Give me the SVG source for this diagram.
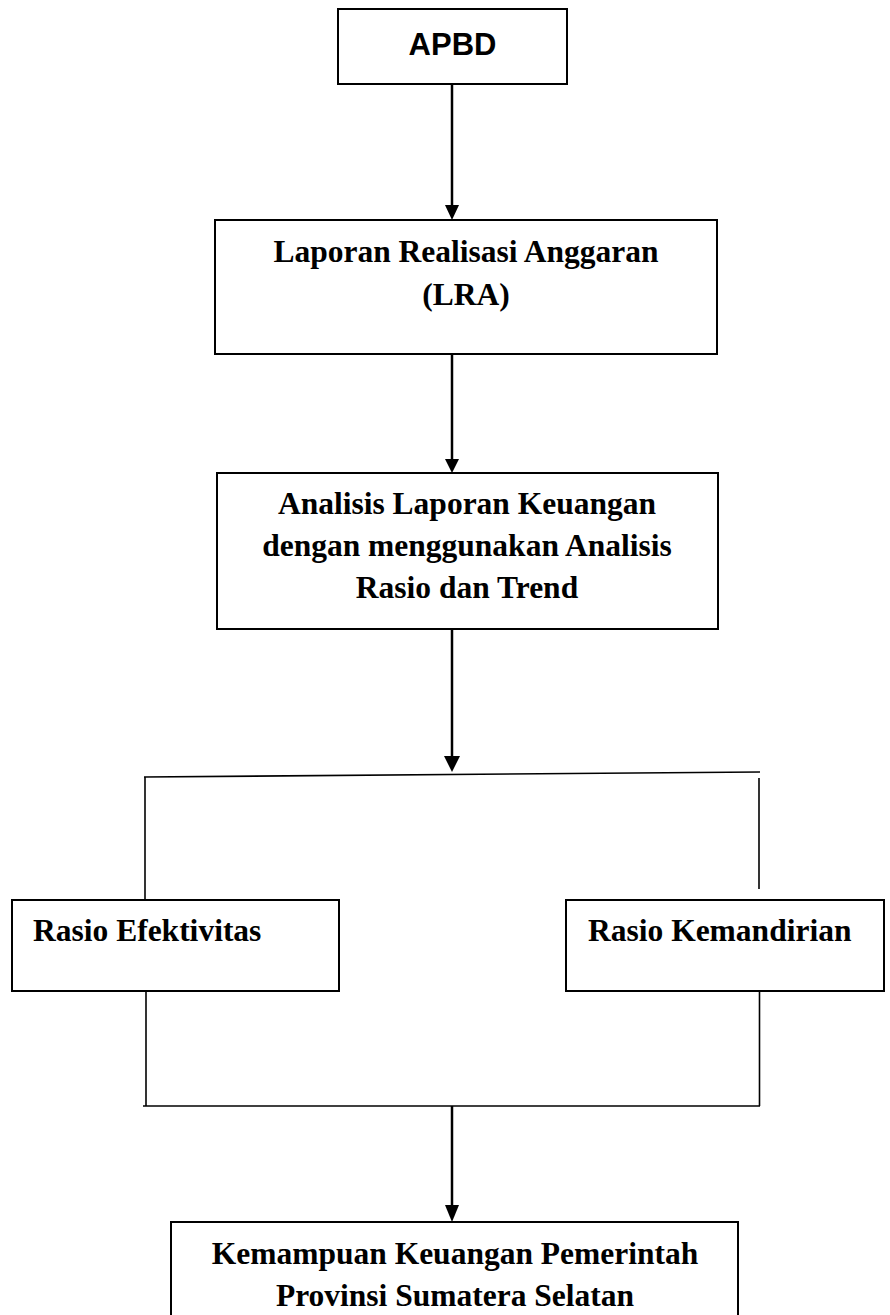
<svg xmlns="http://www.w3.org/2000/svg" width="890" height="1315" viewBox="0 0 890 1315">
<style>
.box{fill:#fff;stroke:#000;stroke-width:2}
.t{font-family:"Liberation Serif","Times New Roman",serif;font-weight:bold;font-size:31.5px;fill:#000}
.c{text-anchor:middle}
.s{font-family:"Liberation Sans",Arial,sans-serif;font-weight:bold;font-size:31px;fill:#000;text-anchor:middle}
.ln{fill:none;stroke:#000;stroke-width:1.6}
.ar{fill:none;stroke:#000;stroke-width:2.5}
</style>
<defs>
<marker id="ah" markerUnits="userSpaceOnUse" markerWidth="16" markerHeight="16" viewBox="0 0 16 16" refX="8" refY="15" orient="auto-start-reverse">
<path d="M1,1 L15,1 L8,15 Z" fill="#000" transform="rotate(0)"/>
</marker>
</defs>
<rect width="890" height="1315" fill="#fff"/>
<g id="connectors">
<path class="ar" d="M452,84 V205"/>
<polygon points="445,205 459,205 452,220" fill="#000"/>
<path class="ar" d="M452,354 V460"/>
<polygon points="445,459 459,459 452,473" fill="#000"/>
<path class="ar" d="M452,629 V757"/>
<polygon points="444,756 460,756 452,772" fill="#000"/>
<path class="ln" d="M144,777 L760,772" stroke-width="2"/>
<path class="ln" d="M145,777 V900"/>
<path class="ln" d="M759,778 V889"/>
<path class="ln" d="M146,991 V1106"/>
<path class="ln" d="M759.5,991 V1106"/>
<path class="ln" d="M143,1106 H760" stroke-width="2"/>
<path class="ar" d="M452,1106 V1206"/>
<polygon points="445,1205 459,1205 452,1222" fill="#000"/>
</g>
<g id="apbd">
<rect class="box" x="338" y="9" width="229" height="75"/>
<text class="s" x="452.5" y="55">APBD</text>
</g>
<g id="lra">
<rect class="box" x="215" y="220" width="502" height="134"/>
<text class="t c" x="466" y="262">Laporan Realisasi Anggaran</text>
<text class="t c" x="466" y="305">(LRA)</text>
</g>
<g id="analisis">
<rect class="box" x="217" y="473" width="501" height="156"/>
<text class="t c" x="467" y="514">Analisis Laporan Keuangan</text>
<text class="t c" x="467" y="556">dengan menggunakan Analisis</text>
<text class="t c" x="467" y="598">Rasio dan Trend</text>
</g>
<g id="efektivitas">
<rect class="box" x="12" y="900" width="327" height="91"/>
<text class="t" x="33" y="941">Rasio Efektivitas</text>
</g>
<g id="kemandirian">
<rect class="box" x="566" y="900" width="318" height="91"/>
<text class="t" x="588" y="941">Rasio Kemandirian</text>
</g>
<g id="kemampuan">
<rect class="box" x="171" y="1222" width="567" height="110"/>
<text class="t c" x="455" y="1264">Kemampuan Keuangan Pemerintah</text>
<text class="t c" x="455" y="1306">Provinsi Sumatera Selatan</text>
</g>
</svg>
